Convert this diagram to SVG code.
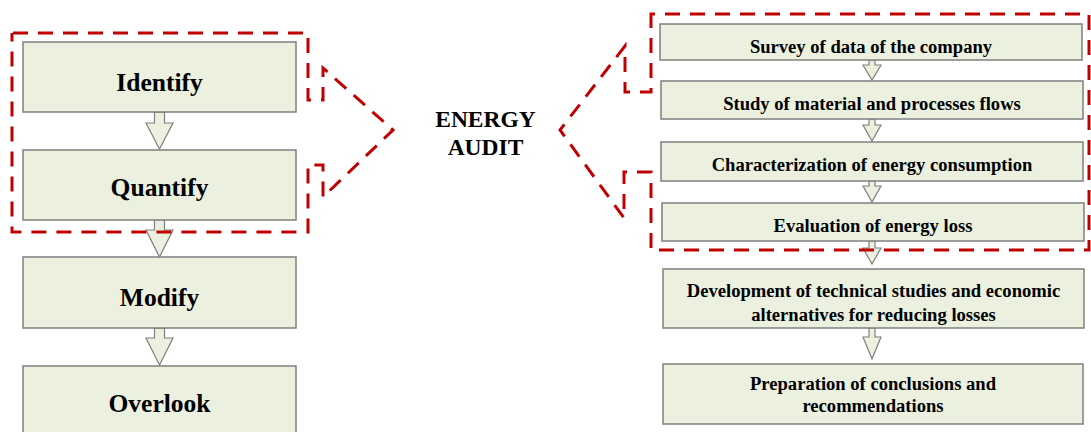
<svg xmlns="http://www.w3.org/2000/svg" width="1091" height="432" viewBox="0 0 1091 432">
<style>
.box{fill:#EBF1DE;stroke:#7F7F7F;stroke-width:1.5}
.arr{fill:#EBF1DE;stroke:#7F7F7F;stroke-width:1.2;stroke-linejoin:miter}
.big{font-family:"Liberation Serif","Times New Roman",serif;font-weight:bold;font-size:25.5px;fill:#000;text-anchor:middle}
.sm{font-family:"Liberation Serif","Times New Roman",serif;font-weight:bold;font-size:18.6px;fill:#000;text-anchor:middle}
.mid{font-family:"Liberation Serif","Times New Roman",serif;font-weight:bold;font-size:23.5px;fill:#000;text-anchor:middle}
.dash{fill:none;stroke:#C00000;stroke-width:3;stroke-dasharray:15 10}
</style>
<rect width="1091" height="432" fill="#fff"/>
<g id="connectors">
<path class="arr" d="M154.5,112 V123 H146 L159.5,149 L173,123 H164.5 V112 Z"/>
<path class="arr" d="M154.5,220 V230 H146 L159.5,257 L173,230 H164.5 V220 Z"/>
<path class="arr" d="M154.5,328 V338 H146 L159.5,365 L173,338 H164.5 V328 Z"/>
<path class="arr" d="M869,60 V65 H863 L872,80 L881,65 H875 V60 Z"/>
<path class="arr" d="M869,119 V125 H863 L872,141 L881,125 H875 V119 Z"/>
<path class="arr" d="M869,181 V186 H863 L872,202 L881,186 H875 V181 Z"/>
<path class="arr" d="M869,241 V248 H863 L872,264 L881,248 H875 V241 Z"/>
<path class="arr" d="M869,328 V337 H863 L872,359 L881,337 H875 V328 Z"/>
</g>
<g id="identify"><rect class="box" x="23" y="42" width="273" height="70"/><text class="big" x="159.5" y="91">Identify</text></g>
<g id="quantify"><rect class="box" x="23" y="150" width="273" height="70"/><text class="big" x="159.5" y="196">Quantify</text></g>
<g id="modify"><rect class="box" x="23" y="257" width="273" height="71"/><text class="big" x="159.5" y="306">Modify</text></g>
<g id="overlook"><rect class="box" x="23" y="366" width="273" height="80"/><text class="big" x="159.5" y="412">Overlook</text></g>
<g id="energy-audit"><text class="mid" x="485.5" y="127">ENERGY</text><text class="mid" x="485.5" y="155">AUDIT</text></g>
<g id="survey"><rect class="box" x="660" y="24" width="422" height="36"/><text class="sm" x="871" y="53">Survey of data of the company</text></g>
<g id="study"><rect class="box" x="661" y="81" width="422" height="38"/><text class="sm" x="872" y="110">Study of material and processes flows</text></g>
<g id="characterization"><rect class="box" x="661" y="142" width="422" height="39"/><text class="sm" x="872" y="171">Characterization of energy consumption</text></g>
<g id="evaluation"><rect class="box" x="662" y="203" width="422" height="38"/><text class="sm" x="873" y="232">Evaluation of energy loss</text></g>
<g id="development"><rect class="box" x="663" y="269" width="421" height="59"/><text class="sm" x="873.5" y="297">Development of technical studies and economic</text><text class="sm" x="873.5" y="321">alternatives for reducing losses</text></g>
<g id="preparation"><rect class="box" x="663" y="364" width="420" height="60"/><text class="sm" x="873" y="390">Preparation of conclusions and</text><text class="sm" x="873" y="412">recommendations</text></g>
<g id="callouts">
<path class="dash" stroke-dashoffset="-1" d="M12,33 H308 V100 H323 V68 L393,130 L323,197 V165 H308 V232 H12 Z"/>
<path class="dash" stroke-dashoffset="11" d="M651,14 H1089 V250 H651 V172 H624 V218 L560,130 L625,46 V92 H651 Z"/>
</g>
</svg>
